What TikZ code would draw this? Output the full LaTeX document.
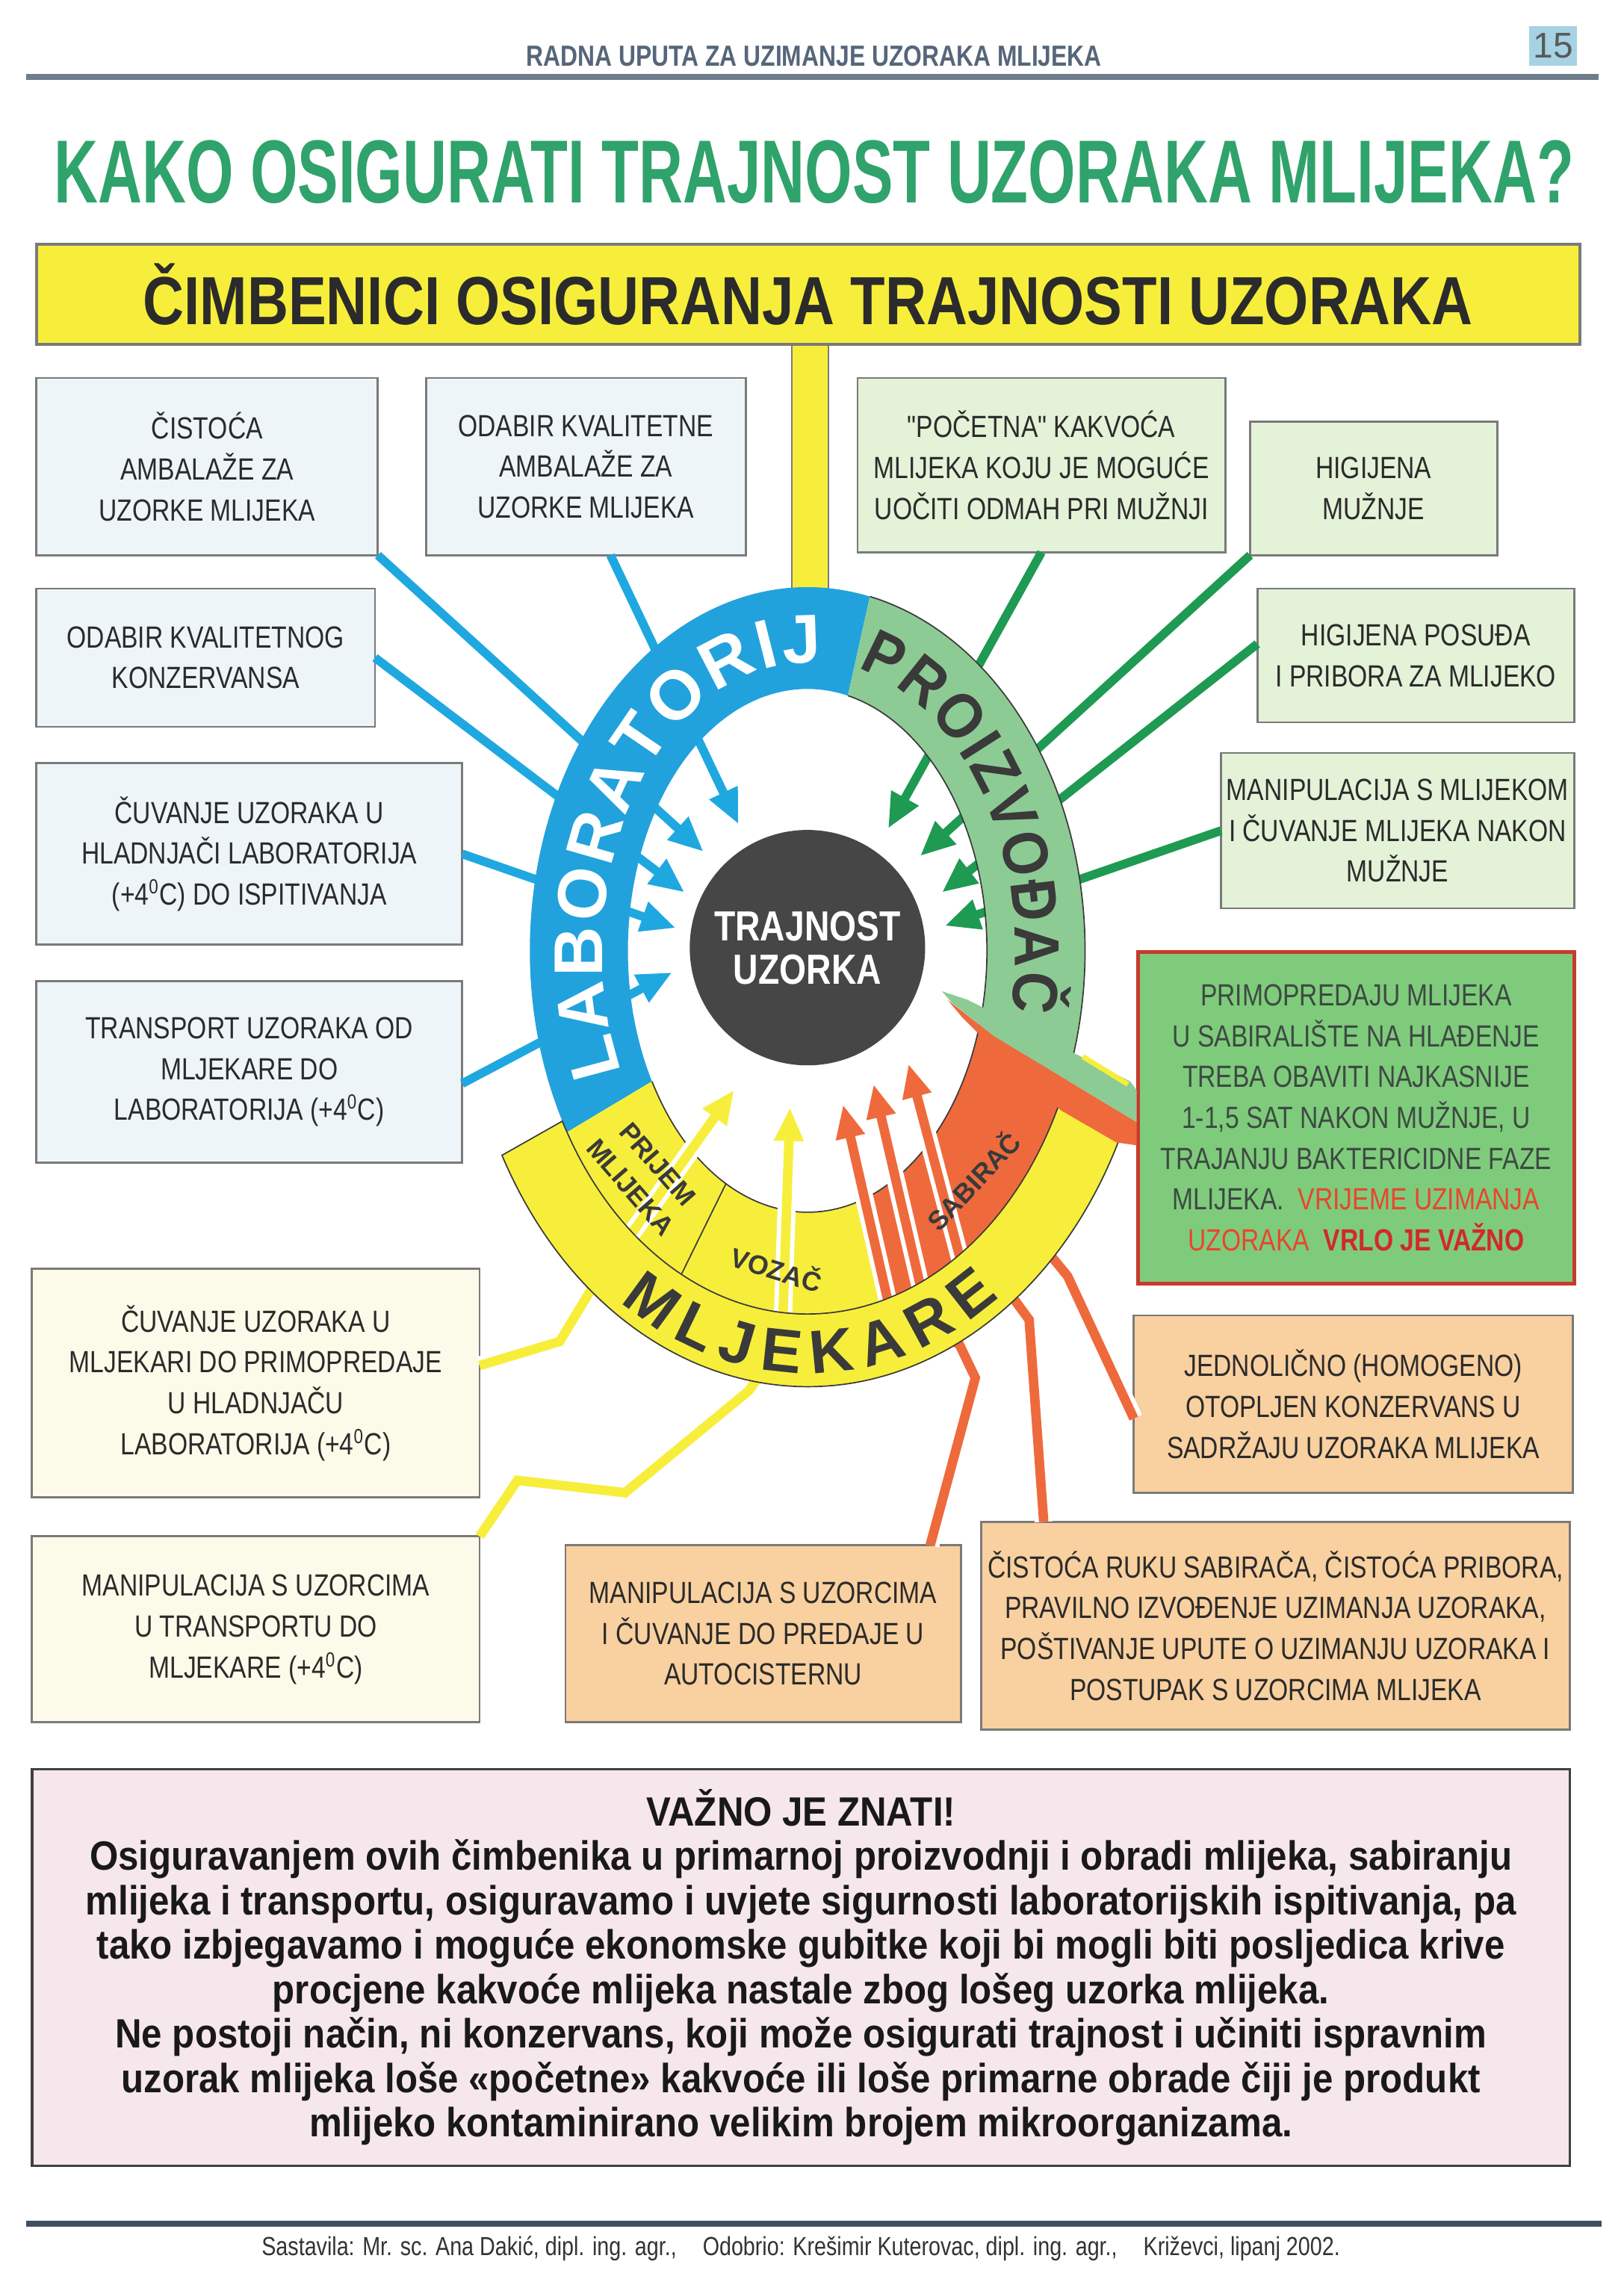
\documentclass[tikz,border=0pt]{standalone}
\usepackage{fontspec}
\usepackage{graphicx}
\setmainfont{Liberation Sans}
\newfontfamily\cnd[FakeStretch=0.82]{Liberation Sans}
\newfontfamily\cndp[FakeStretch=0.9]{Liberation Sans}
\usetikzlibrary{arrows.meta,calc,decorations.text}

\definecolor{labblue}{HTML}{22A2DD}
\definecolor{labline}{HTML}{1FA8E0}
\definecolor{farmband}{HTML}{8DCB94}
\definecolor{farmgreen}{HTML}{1E9A52}
\definecolor{milkyellow}{HTML}{F7EE3B}
\definecolor{collorange}{HTML}{EE6A3C}
\definecolor{core}{HTML}{464646}
\definecolor{labfill}{HTML}{EEF5F9}
\definecolor{farmfill}{HTML}{E4F2D8}
\definecolor{dairyfill}{HTML}{FCFBEA}
\definecolor{collfill}{HTML}{F9D09F}
\definecolor{primofill}{HTML}{7FCB7C}
\definecolor{primoline}{HTML}{C63B2B}
\definecolor{notefill}{HTML}{F6E7EC}
\definecolor{titlegreen}{HTML}{2FA36B}
\definecolor{txtdark}{HTML}{2B2B2B}
\definecolor{ringtxt}{HTML}{3A3A3A}
\definecolor{headtxt}{HTML}{56667A}
\definecolor{rulegray}{HTML}{6E7C8C}
\definecolor{footrule}{HTML}{3F4F63}
\definecolor{pagefill}{HTML}{A6D2E4}
\definecolor{boxline}{HTML}{7A7A7A}
\definecolor{warnred}{HTML}{E8462D}
\definecolor{alarmred}{HTML}{D02A2A}
\definecolor{primotxt}{HTML}{3D4A42}

\newcommand\labtxt{\fontsize{27}{27}\selectfont\bfseries\color{white}}
\newcommand\farmtxt{\cndp\fontsize{25}{25}\selectfont\bfseries\color{ringtxt}}
\newcommand\dairytxt{\fontsize{24}{24}\selectfont\bfseries\color{ringtxt}}

\begin{document}
\begin{tikzpicture}[x={(0.02cm,0cm)},y={(0cm,-0.02cm)},
  every node/.style={outer sep=0pt, inner sep=0pt, text=txtdark},
  box/.style={draw=boxline, line width=0.8pt, align=center, font=\cnd\fontsize{12}{16}\selectfont},
  labbox/.style={box, fill=labfill},
  farmbox/.style={box, fill=farmfill},
  dairybox/.style={box, fill=dairyfill},
  collbox/.style={box, fill=collfill},
  labarrow/.style={draw=labline, line width=0.12cm, -{Triangle[length=0.48cm,width=0.4cm]}},
  farmarrow/.style={draw=farmgreen, line width=0.12cm, -{Triangle[length=0.48cm,width=0.4cm]}},
  haloarrow/.style={line width=0.13cm, -{Triangle[length=0.46cm,width=0.38cm]},
    preaction={draw=white, line width=0.25cm, -{Triangle[length=0.6cm,width=0.54cm]}}},
  band/.style={draw=ringtxt, line width=0.5pt},
  sector/.style={font=\fontsize{10.5}{14}\selectfont\bfseries, text=ringtxt, align=center}]

\useasboundingbox (0,0) rectangle (1117,1568);
\fill[white] (0,0) rectangle (1117,1568);

\node[font=\bfseries, text=headtxt] (runhead) at (560,38.5) {\resizebox{7.92cm}{0.28cm}{RADNA UPUTA ZA UZIMANJE UZORAKA MLIJEKA}};
\node[fill=pagefill, minimum width=0.66cm, minimum height=0.54cm, text=black!65, font=\fontsize{14}{14}\selectfont] (page) at (1068.5,31.5) {15};
\draw[rulegray, line width=2.2pt] (18,53) -- (1100,53);
\node[text=titlegreen, font=\bfseries] (title) at (560,118.5) {\resizebox{20.92cm}{0.86cm}{KAKO OSIGURATI TRAJNOST UZORAKA MLIJEKA?}};

\fill[milkyellow] (545,230) rectangle (570,420);
\draw[boxline, line width=0.6pt] (545,237) -- (545,420) (570,237) -- (570,420);
\node[draw=boxline, line width=1pt, fill=milkyellow, minimum width=21.24cm, minimum height=1.38cm, font=\bfseries] (factors) at (556,202.5) {\resizebox{18.3cm}{0.84cm}{ČIMBENICI OSIGURANJA TRAJNOSTI UZORAKA}};

\node[labbox, minimum width=4.7cm, minimum height=2.44cm] (b1) at (142.5,321) {ČISTOĆA\\AMBALAŽE ZA\\UZORKE MLIJEKA};
\node[labbox, minimum width=4.4cm, minimum height=2.44cm] (b2) at (403,321) {ODABIR KVALITETNE\\AMBALAŽE ZA\\UZORKE MLIJEKA};
\node[labbox, minimum width=4.66cm, minimum height=1.9cm] (b3) at (141.5,452.5) {ODABIR KVALITETNOG\\KONZERVANSA};
\node[labbox, minimum width=5.86cm, minimum height=2.5cm] (b4) at (171.5,587.5) {ČUVANJE UZORAKA U\\HLADNJAČI LABORATORIJA\\(+4\textsuperscript{0}C) DO ISPITIVANJA};
\node[labbox, minimum width=5.86cm, minimum height=2.5cm] (b5) at (171.5,737.5) {TRANSPORT UZORAKA OD\\MLJEKARE DO\\LABORATORIJA (+4\textsuperscript{0}C)};
\node[dairybox, minimum width=6.16cm, minimum height=3.14cm] (b6) at (176,951.5) {ČUVANJE UZORAKA U\\MLJEKARI DO PRIMOPREDAJE\\U HLADNJAČU\\LABORATORIJA (+4\textsuperscript{0}C)};
\node[dairybox, minimum width=6.16cm, minimum height=2.56cm] (b7) at (176,1121) {MANIPULACIJA S UZORCIMA\\U TRANSPORTU DO\\MLJEKARE (+4\textsuperscript{0}C)};
\node[collbox, minimum width=5.44cm, minimum height=2.44cm] (b8) at (525,1124) {MANIPULACIJA S UZORCIMA\\I ČUVANJE DO PREDAJE U\\AUTOCISTERNU};
\node[collbox, minimum width=8.1cm, minimum height=2.86cm] (b9) at (877.5,1118.5) {ČISTOĆA RUKU SABIRAČA, ČISTOĆA PRIBORA,\\PRAVILNO IZVOĐENJE UZIMANJA UZORAKA,\\POŠTIVANJE UPUTE O UZIMANJU UZORAKA I\\POSTUPAK S UZORCIMA MLIJEKA};
\node[collbox, minimum width=6.04cm, minimum height=2.44cm] (b10) at (931,966) {JEDNOLIČNO (HOMOGENO)\\OTOPLJEN KONZERVANS U\\SADRŽAJU UZORAKA MLIJEKA};
\node[box, draw=primoline, line width=1.4pt, fill=primofill, text=primotxt, minimum width=6cm, minimum height=4.56cm] (b11) at (933,769) {PRIMOPREDAJU MLIJEKA\\U SABIRALIŠTE NA HLAĐENJE\\TREBA OBAVITI NAJKASNIJE\\1-1,5 SAT NAKON MUŽNJE, U\\TRAJANJU BAKTERICIDNE FAZE\\MLIJEKA.\ \ {\color{warnred}VRIJEME UZIMANJA}\\{\color{warnred}UZORAKA}\ \ {\color{alarmred}\bfseries VRLO JE VAŽNO}};
\node[farmbox, minimum width=5.06cm, minimum height=2.4cm] (g1) at (716.5,320) {"POČETNA" KAKVOĆA\\MLIJEKA KOJU JE MOGUĆE\\UOČITI ODMAH PRI MUŽNJI};
\node[farmbox, minimum width=3.4cm, minimum height=1.84cm] (g2) at (945,336) {HIGIJENA\\MUŽNJE};
\node[farmbox, minimum width=4.36cm, minimum height=1.84cm] (g3) at (974,451) {HIGIJENA POSUĐA\\I PRIBORA ZA MLIJEKO};
\node[farmbox, minimum width=4.86cm, minimum height=2.14cm] (g4) at (961.5,571.5) {MANIPULACIJA S MLIJEKOM\\I ČUVANJE MLIJEKA NAKON\\MUŽNJE};

\coordinate (C) at (555.5,654);
\coordinate (tb1) at (484,586);
\coordinate (tb2) at (508,567);
\coordinate (tb3) at (471,614);
\coordinate (tb4) at (465,638.5);
\coordinate (tb5) at (462.5,669);
\coordinate (tg1) at (611,570);
\coordinate (tg2) at (633,589);
\coordinate (tg3) at (648,614);
\coordinate (tg4) at (650,637);
\coordinate (ty1) at (505,750);
\coordinate (ty2) at (543.5,762);
\coordinate (to1) at (580,760);
\coordinate (to2) at (601,746);
\coordinate (to3) at (625,732);

\draw[labarrow] (b1.south east) -- (tb1);
\draw[labarrow] ($(b2.south)+(17,0)$) -- (tb2);
\draw[labarrow] (b3.east) -- (tb3);
\draw[labarrow] (b4.east) -- (tb4);
\draw[labarrow] ($(b5.east)+(0,8)$) -- (tb5);
\draw[farmarrow] (g1.south) -- (tg1);
\draw[farmarrow] (g2.south west) -- (tg2);
\draw[farmarrow] ($(g3.west)+(0,-8)$) -- (tg3);
\draw[farmarrow] (g4.west) -- (tg4);

\fill[labblue] ($(C)+(-77:191 and 250)$) arc[start angle=-77, end angle=-210, x radius=191, y radius=250] -- ($(C)+(-210:123.5 and 180)$) arc[start angle=-210, end angle=-77, x radius=123.5, y radius=180] -- cycle;
\fill[farmband] ($(C)+(17:191 and 250)$) arc[start angle=17, end angle=-77, x radius=191, y radius=250] -- ($(C)+(-77:123.5 and 180)$) arc[start angle=-77, end angle=17, x radius=123.5, y radius=180] -- cycle;
\fill[milkyellow] ($(C)+(-210:191 and 250)$) arc[start angle=-210, end angle=-288, x radius=191, y radius=250] -- ($(C)+(-288:123.5 and 180)$) arc[start angle=-288, end angle=-210, x radius=123.5, y radius=180] -- cycle;
\fill[collorange] ($(C)+(-288:191 and 250)$) arc[start angle=-288, end angle=-343, x radius=191, y radius=250] -- ($(C)+(-343:123.5 and 180)$) arc[start angle=-343, end angle=-288, x radius=123.5, y radius=180] -- cycle;
\draw[band] ($(C)+(17:191 and 250)$) arc[start angle=17, end angle=-77, x radius=191, y radius=250];
\draw[band] ($(C)+(17:123.5 and 180)$) arc[start angle=17, end angle=-77, x radius=123.5, y radius=180];
\draw[band] ($(C)+(-210:123.5 and 180)$) arc[start angle=-210, end angle=-343, x radius=123.5, y radius=180];
\draw[band] ($(C)+(-243:123.5 and 180)$) -- ($(C)+(-243:191 and 250)$);

\path[decorate, decoration={text along path, text align={fit to path}, text={|\labtxt|LABORATORIJ}}] ($(C)+(-205:141 and 198)$) arc[start angle=-205, end angle=-86, x radius=141, y radius=198];
\path[decorate, decoration={text along path, text align={fit to path}, text={|\farmtxt|PROIZVOĐAČ}}] ($(C)+(-76:143 and 200)$) arc[start angle=-76, end angle=12, x radius=143, y radius=200];

\draw[haloarrow, draw=milkyellow] ($(b6.east)+(0,-12)$) -- (385,923) -- (405,890) -- (ty1);
\draw[haloarrow, draw=milkyellow] (b7.north east) -- (356,1018.5) -- (430,1027) -- (515,957) -- (538,925) -- (ty2);
\draw[haloarrow, draw=collorange] ($(b8.north east)+(-21,0)$) -- (671,948) -- (660,925) -- (612,900) -- (to1);
\draw[haloarrow, draw=collorange] ($(b9.north west)+(43,0)$) -- (708,908) -- (697,893) -- (634,888) -- (to2);
\draw[haloarrow, draw=collorange] ($(b10.west)+(0,10)$) -- (734.5,878) -- (723,864) -- (663,875) -- (to3);

\fill[milkyellow] ($(C)+(-208:238 and 300)$) arc[start angle=-208, end angle=-335, x radius=238, y radius=300] -- ($(C)+(-335:191 and 250)$) arc[start angle=-335, end angle=-208, x radius=191, y radius=250] -- cycle;
\draw[band] ($(C)+(-208:238 and 300)$) arc[start angle=-208, end angle=-335, x radius=238, y radius=300] -- ($(C)+(-335:191 and 250)$) arc[start angle=-335, end angle=-208, x radius=191, y radius=250] -- cycle;
\path[decorate, decoration={text along path, text align={fit to path}, text={|\dairytxt|MLJEKARE}}] ($(C)+(-236:230 and 291)$) arc[start angle=-236, end angle=-305, x radius=230, y radius=291];

\node[sector, rotate=-49] (prijem) at (443,809) {PRIJEM\\MLIJEKA};
\node[sector, rotate=-17] (vozac) at (534.5,872.5) {VOZAČ};
\node[sector, rotate=47] (sabirac) at (669,812) {SABIRAČ};

\fill[collorange] (652,688) -- (684,713) -- (782,772) -- (782,788) -- (768,786) -- (730,764) -- (695,733) -- (662,700) -- cycle;
\fill[farmband] (648,682) -- (666,688) -- (777.5,744) -- (782,750) -- (782,772) -- (684,713) -- (655,690) -- cycle;
\draw[milkyellow, line width=2pt] (745,727) -- (776,746);

\node[circle, fill=core, minimum size=3.24cm, text=white, align=center, font=\cnd\bfseries\fontsize{16.5}{17}\selectfont] (core) at (555.5,652) {TRAJNOST\\UZORKA};

\node[draw=black!75, line width=0.9pt, fill=notefill, minimum width=21.16cm, minimum height=5.46cm, align=center, text=black!90, font=\cndp\bfseries\fontsize{16}{17.4}\selectfont] (note) at (551,1353.5) {VAŽNO JE ZNATI!\\Osiguravanjem ovih čimbenika u primarnoj proizvodnji i obradi mlijeka, sabiranju\\mlijeka i transportu, osiguravamo i uvjete sigurnosti laboratorijskih ispitivanja, pa\\tako izbjegavamo i moguće ekonomske gubitke koji bi mogli biti posljedica krive\\procjene kakvoće mlijeka nastale zbog lošeg uzorka mlijeka.\\Ne postoji način, ni konzervans, koji može osigurati trajnost i učiniti ispravnim\\uzorak mlijeka loše «početne» kakvoće ili loše primarne obrade čiji je produkt\\mlijeko kontaminirano velikim brojem mikroorganizama.};
\draw[footrule, line width=2.4pt] (18,1530) -- (1102,1530);
\node[text=black!80] (credits) at (551,1547) {\resizebox{14.84cm}{!}{\cnd Sastavila: Mr. sc. Ana Dakić, dipl. ing. agr.,\quad Odobrio: Krešimir Kuterovac, dipl. ing. agr.,\quad Križevci, lipanj 2002.}};
\end{tikzpicture}
\end{document}
